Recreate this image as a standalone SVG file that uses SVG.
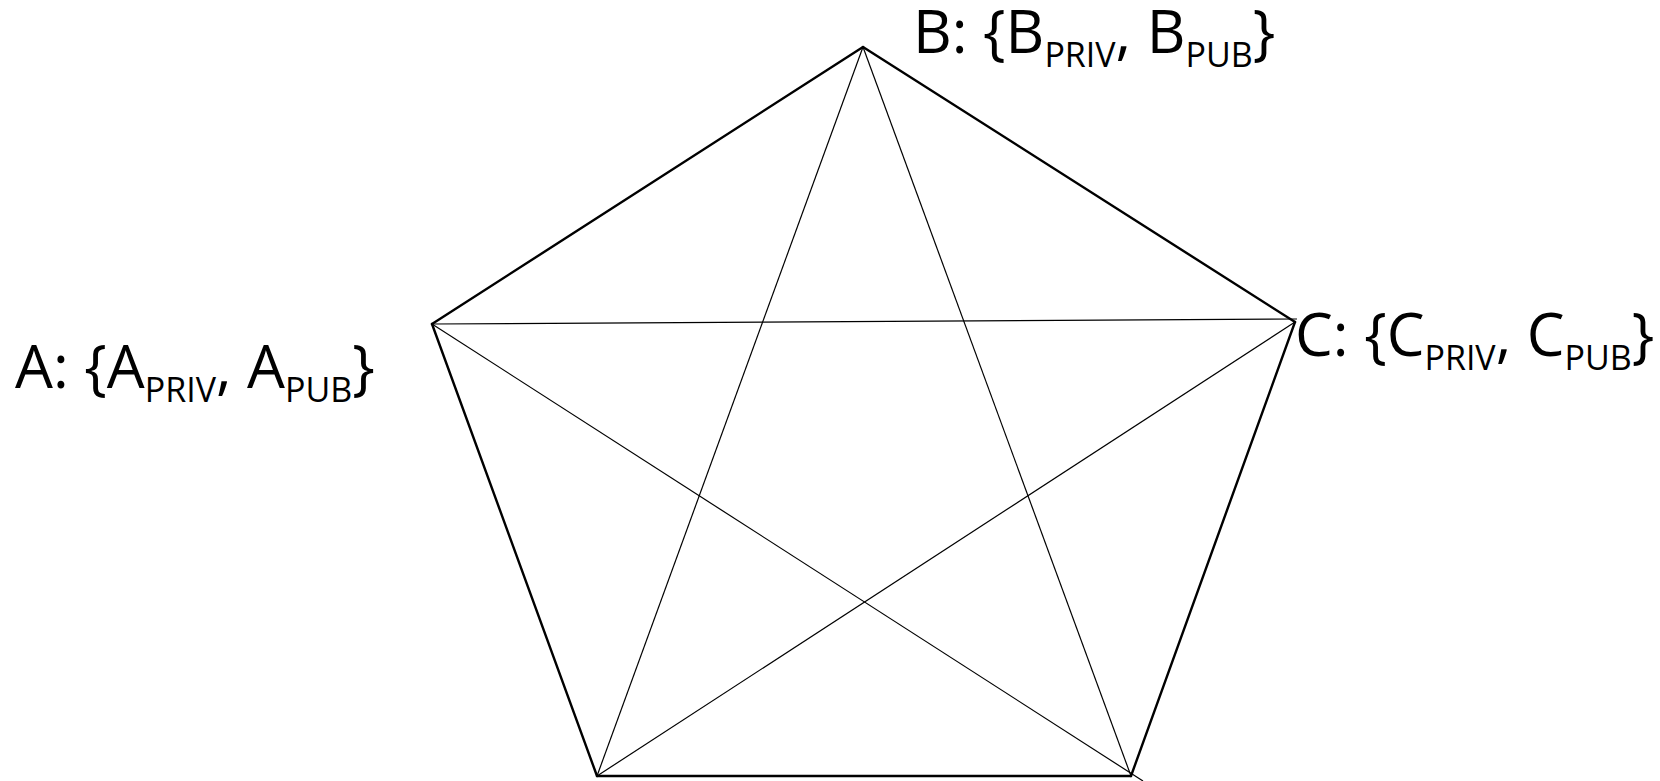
<svg xmlns="http://www.w3.org/2000/svg" width="1660" height="781" viewBox="0 0 1660 781">
<style>
.edge{stroke:#000;stroke-width:2.4;fill:none;stroke-linecap:round}
.diag{stroke:#000;stroke-width:1.2;fill:none}
.lbl{font-family:"Open Sans","Liberation Sans",sans-serif;font-size:60px;fill:#000}
.sub{font-size:34px}
</style>
<rect width="1660" height="781" fill="#fff"/>
<g id="connectors">
<line class="edge" x1="863" y1="47" x2="432" y2="324"/>
<line class="edge" x1="863" y1="47" x2="1295" y2="322"/>
<line class="edge" x1="432" y1="324" x2="597" y2="776"/>
<line class="edge" x1="1295" y1="322" x2="1131" y2="776"/>
<line class="edge" x1="597" y1="776" x2="1131" y2="776"/>
<line class="diag" x1="863" y1="47" x2="597" y2="776"/>
<line class="diag" x1="863" y1="47" x2="1131" y2="776"/>
<line class="diag" x1="432" y1="324" x2="1297" y2="319"/>
<line class="diag" x1="432" y1="324" x2="1143" y2="781"/>
<line class="diag" x1="1295" y1="322" x2="597" y2="776"/>
</g>
<g id="nodeA">
<text class="lbl" x="15" y="388">A: {A<tspan class="sub" dy="14">PRIV</tspan><tspan dy="-14">, A</tspan><tspan class="sub" dy="14">PUB</tspan><tspan dy="-14">}</tspan></text>
</g>
<g id="nodeB">
<text class="lbl" x="913" y="53">B: {B<tspan class="sub" dy="14">PRIV</tspan><tspan dy="-14">, B</tspan><tspan class="sub" dy="14">PUB</tspan><tspan dy="-14">}</tspan></text>
</g>
<g id="nodeC">
<text class="lbl" x="1295" y="356">C: {C<tspan class="sub" dy="14">PRIV</tspan><tspan dy="-14">, C</tspan><tspan class="sub" dy="14">PUB</tspan><tspan dy="-14">}</tspan></text>
</g>
</svg>
